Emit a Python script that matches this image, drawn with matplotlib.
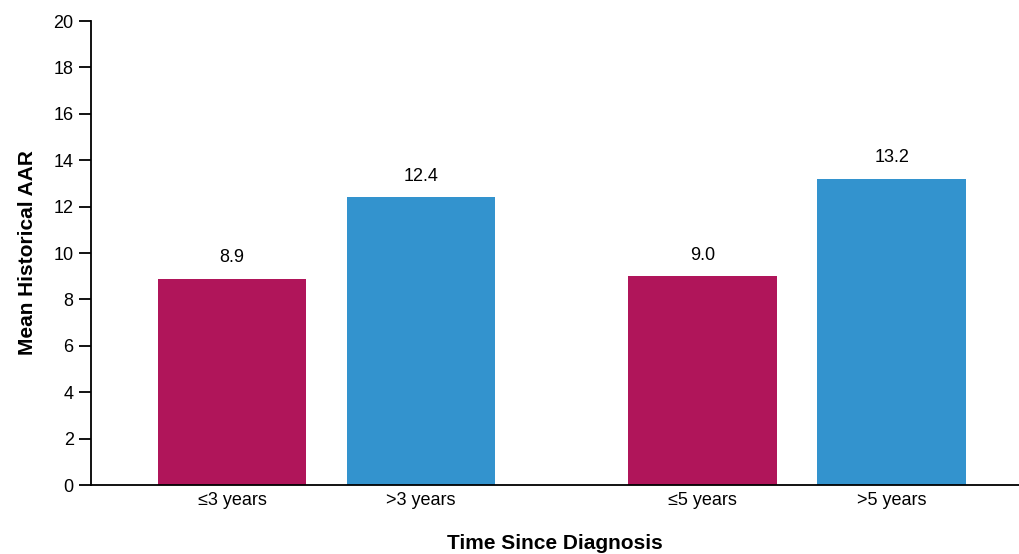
import numpy as np
import matplotlib.pyplot as plt

plt.rcParams['font.family'] = ['Liberation Sans', 'DejaVu Sans']

# 数据
categories = ['≤3 years', '>3 years', '≤5 years', '>5 years']
values = [8.9, 12.4, 9.0, 13.2]
bar_colors = ['#B0155A', '#3393CE', '#B0155A', '#3393CE']
y_ticks = [0, 2, 4, 6, 8, 10, 12, 14, 16, 18, 20]

# 两组之间留空
x_pos = np.array([0, 1, 2.49, 3.49])

fig = plt.figure(figsize=(10.19, 5.54), dpi=100)
ax = fig.add_axes([0.0893, 0.1245, 0.9107, 0.8375])

ax.bar(x_pos, values, width=0.785, color=bar_colors, zorder=2)

# 柱顶数值
for x, v in zip(x_pos, values):
    ax.annotate(f'{v:.1f}', (x, v), xytext=(0, 9), textcoords='offset points',
                ha='center', va='bottom', fontsize=13)

ax.set_xlim(-0.746, 4.164)
ax.set_ylim(0, 20)
ax.set_yticks(y_ticks)
ax.set_xticks(x_pos)
ax.set_xticklabels(categories)
ax.tick_params(axis='y', direction='out', length=8.5, width=1.3, labelsize=13, pad=4)
ax.tick_params(axis='x', length=0, labelsize=13, pad=5)

for s in ['top', 'right']:
    ax.spines[s].set_visible(False)
ax.spines['left'].set_linewidth(1.3)
ax.spines['bottom'].set_linewidth(1.3)

ax.set_ylabel('Mean Historical AAR', fontsize=15, fontweight='bold', labelpad=12)
ax.set_xlabel('Time Since Diagnosis', fontsize=15, fontweight='bold', labelpad=18)

fig.savefig('out.png', dpi=100)
